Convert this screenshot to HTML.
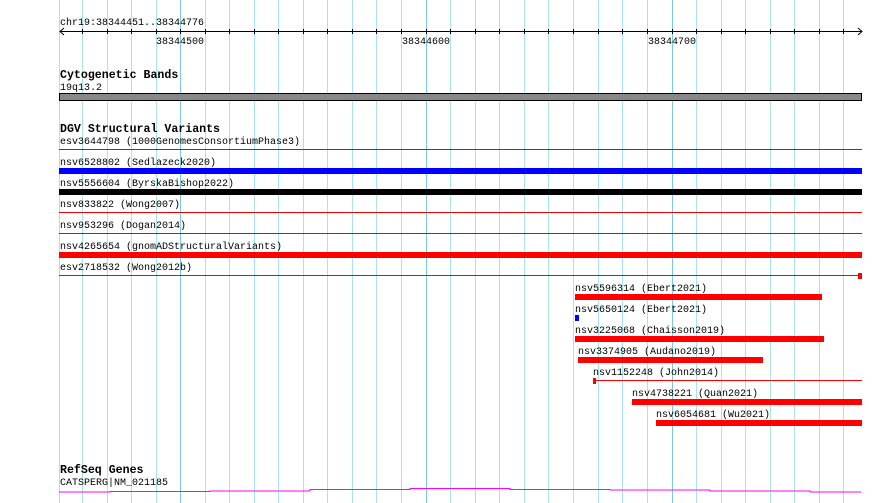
<!DOCTYPE html>
<html><head><style>
body{margin:0;background:#fff;}
svg{display:block}
text{font-family:"Liberation Mono","DejaVu Sans Mono",monospace;font-size:10px;fill:#000}
.h{font-weight:bold;font-size:11.6px}
</style></head><body>
<svg width="890" height="503" viewBox="0 0 890 503" xmlns="http://www.w3.org/2000/svg">
<g stroke="#a8e4ea" stroke-width="1">
<line x1="59.5" y1="0" x2="59.5" y2="503"/>
<line x1="82.5" y1="0" x2="82.5" y2="503"/><line x1="107.5" y1="0" x2="107.5" y2="503"/><line x1="131.5" y1="0" x2="131.5" y2="503"/><line x1="156.5" y1="0" x2="156.5" y2="503"/>
<line x1="205.5" y1="0" x2="205.5" y2="503"/><line x1="229.5" y1="0" x2="229.5" y2="503"/><line x1="254.5" y1="0" x2="254.5" y2="503"/><line x1="278.5" y1="0" x2="278.5" y2="503"/><line x1="303.5" y1="0" x2="303.5" y2="503"/><line x1="327.5" y1="0" x2="327.5" y2="503"/><line x1="352.5" y1="0" x2="352.5" y2="503"/><line x1="376.5" y1="0" x2="376.5" y2="503"/><line x1="401.5" y1="0" x2="401.5" y2="503"/>
<line x1="450.5" y1="0" x2="450.5" y2="503"/><line x1="475.5" y1="0" x2="475.5" y2="503"/><line x1="499.5" y1="0" x2="499.5" y2="503"/><line x1="524.5" y1="0" x2="524.5" y2="503"/><line x1="548.5" y1="0" x2="548.5" y2="503"/><line x1="573.5" y1="0" x2="573.5" y2="503"/><line x1="598.5" y1="0" x2="598.5" y2="503"/><line x1="622.5" y1="0" x2="622.5" y2="503"/><line x1="647.5" y1="0" x2="647.5" y2="503"/>
<line x1="696.5" y1="0" x2="696.5" y2="503"/><line x1="721.5" y1="0" x2="721.5" y2="503"/><line x1="745.5" y1="0" x2="745.5" y2="503"/><line x1="770.5" y1="0" x2="770.5" y2="503"/><line x1="794.5" y1="0" x2="794.5" y2="503"/><line x1="819.5" y1="0" x2="819.5" y2="503"/><line x1="843.5" y1="0" x2="843.5" y2="503"/>
</g>
<g stroke="#7ec8e0"><line x1="180.5" y1="0" x2="180.5" y2="503"/><line x1="426.5" y1="0" x2="426.5" y2="503"/><line x1="672.5" y1="0" x2="672.5" y2="503"/></g>
<!-- ruler -->
<text x="60" y="25">chr19:38344451..38344776</text>
<line x1="60" y1="31.5" x2="862" y2="31.5" stroke="#000"/>
<polyline points="64,28 60,31.5 64,35" fill="none" stroke="#000"/>
<polyline points="858,28 862,31.5 858,35" fill="none" stroke="#000"/>
<g stroke="#000">
<line x1="82.5" y1="29" x2="82.5" y2="34"/><line x1="107.5" y1="29" x2="107.5" y2="34"/><line x1="131.5" y1="29" x2="131.5" y2="34"/><line x1="156.5" y1="29" x2="156.5" y2="34"/><line x1="180.5" y1="29" x2="180.5" y2="34"/><line x1="205.5" y1="29" x2="205.5" y2="34"/><line x1="229.5" y1="29" x2="229.5" y2="34"/><line x1="254.5" y1="29" x2="254.5" y2="34"/><line x1="278.5" y1="29" x2="278.5" y2="34"/><line x1="303.5" y1="29" x2="303.5" y2="34"/><line x1="327.5" y1="29" x2="327.5" y2="34"/><line x1="352.5" y1="29" x2="352.5" y2="34"/><line x1="376.5" y1="29" x2="376.5" y2="34"/><line x1="401.5" y1="29" x2="401.5" y2="34"/><line x1="426.5" y1="29" x2="426.5" y2="34"/><line x1="450.5" y1="29" x2="450.5" y2="34"/><line x1="475.5" y1="29" x2="475.5" y2="34"/><line x1="499.5" y1="29" x2="499.5" y2="34"/><line x1="524.5" y1="29" x2="524.5" y2="34"/><line x1="548.5" y1="29" x2="548.5" y2="34"/><line x1="573.5" y1="29" x2="573.5" y2="34"/><line x1="598.5" y1="29" x2="598.5" y2="34"/><line x1="622.5" y1="29" x2="622.5" y2="34"/><line x1="647.5" y1="29" x2="647.5" y2="34"/><line x1="672.5" y1="29" x2="672.5" y2="34"/><line x1="696.5" y1="29" x2="696.5" y2="34"/><line x1="721.5" y1="29" x2="721.5" y2="34"/><line x1="745.5" y1="29" x2="745.5" y2="34"/><line x1="770.5" y1="29" x2="770.5" y2="34"/><line x1="794.5" y1="29" x2="794.5" y2="34"/><line x1="819.5" y1="29" x2="819.5" y2="34"/><line x1="843.5" y1="29" x2="843.5" y2="34"/>
</g>
<text x="156" y="44">38344500</text>
<text x="402" y="44">38344600</text>
<text x="648" y="44">38344700</text>
<!-- cyto -->
<text class="h" x="60" y="78">Cytogenetic Bands</text>
<text x="60" y="90">19q13.2</text>
<rect x="59.5" y="93.5" width="802" height="7" fill="#888" stroke="#000"/>
<!-- DGV -->
<text class="h" x="60" y="132">DGV Structural Variants</text>
<text x="60" y="144">esv3644798 (1000GenomesConsortiumPhase3)</text>
<rect x="59" y="149" width="803" height="1" fill="#e00"/>
<text x="60" y="165">nsv6528802 (Sedlazeck2020)</text>
<rect x="59" y="168" width="803" height="6" fill="#00f"/>
<text x="60" y="186">nsv5556604 (ByrskaBishop2022)</text>
<rect x="59" y="189" width="803" height="6" fill="#000"/>
<text x="60" y="207">nsv833822 (Wong2007)</text>
<rect x="59" y="212" width="803" height="1" fill="#e00"/>
<text x="60" y="228">nsv953296 (Dogan2014)</text>
<rect x="59" y="233" width="803" height="1" fill="#e00"/>
<text x="60" y="249">nsv4265654 (gnomADStructuralVariants)</text>
<rect x="59" y="252" width="803" height="6" fill="#f00"/>
<text x="60" y="270">esv2718532 (Wong2012b)</text>
<rect x="59" y="275" width="803" height="1" fill="#f00"/>
<rect x="858" y="273" width="4" height="6" fill="#f00"/>
<text x="575" y="291">nsv5596314 (Ebert2021)</text>
<rect x="575" y="294" width="247" height="6" fill="#f00"/>
<text x="575" y="312">nsv5650124 (Ebert2021)</text>
<rect x="575" y="315" width="4" height="6" fill="#00f"/>
<text x="575" y="333">nsv3225068 (Chaisson2019)</text>
<rect x="575" y="336" width="249" height="6" fill="#f00"/>
<text x="578" y="354">nsv3374905 (Audano2019)</text>
<rect x="578" y="357" width="185" height="6" fill="#f00"/>
<text x="593" y="375">nsv1152248 (John2014)</text>
<rect x="593" y="380" width="269" height="1" fill="#f00"/>
<rect x="593" y="378" width="3" height="6" fill="#f00"/>
<text x="632" y="396">nsv4738221 (Quan2021)</text>
<rect x="632" y="399" width="230" height="6" fill="#f00"/>
<text x="656" y="417">nsv6054681 (Wu2021)</text>
<rect x="656" y="420" width="206" height="6" fill="#f00"/>
<!-- RefSeq -->
<text class="h" x="60" y="473">RefSeq Genes</text>
<text x="60" y="485">CATSPERG|NM_021185</text>
<polyline points="59,492 110,492 110,491.5 210,491.5 210,491 310,491 310,489.5 410,489.5 410,488.5 510,488.5 510,489.5 610,489.5 610,490 710,490 710,491 810,491 810,492 861,492" fill="none" stroke="#f0f" stroke-width="1"/>
</svg>
</body></html>
